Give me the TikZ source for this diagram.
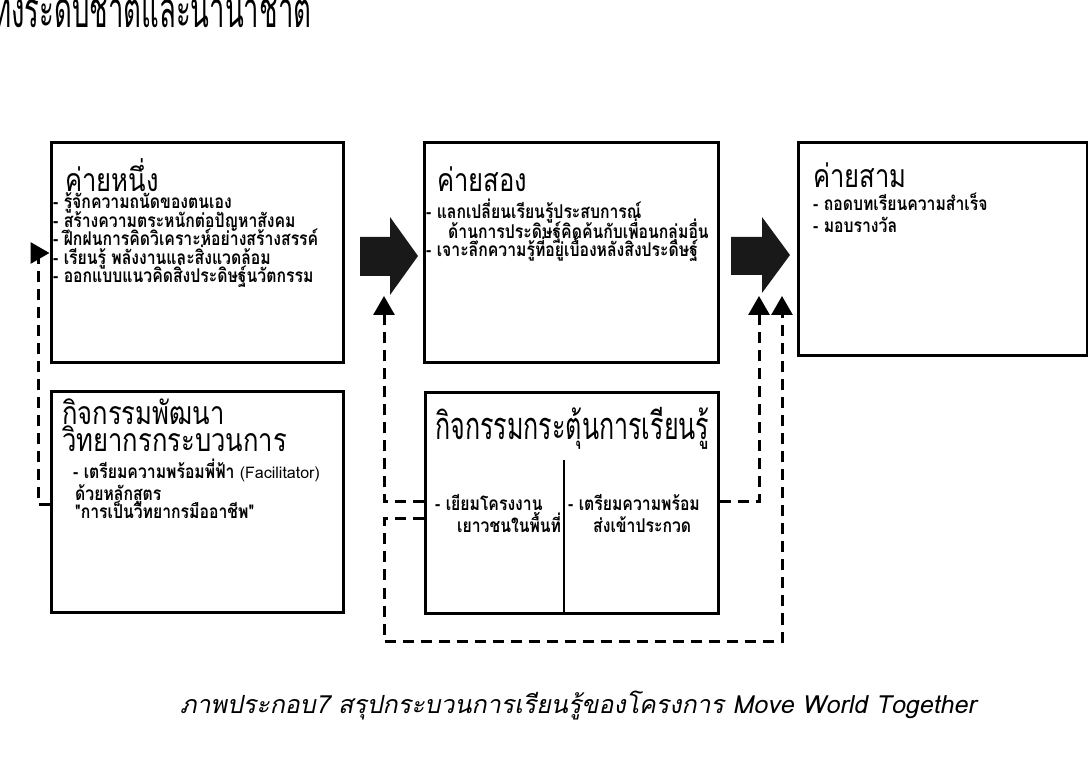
\documentclass[tikz,border=0pt]{standalone}
\usepackage{fontspec}
\usetikzlibrary{arrows.meta}
\newfontfamily\thai[Script=Thai]{Loma}
\newfontfamily\headfont[Script=Thai,FakeStretch=0.55]{Loma}
\newfontfamily\titlefont[Script=Thai,FakeStretch=0.8]{Loma}
\newfontfamily\bigtitlefont[Script=Thai,FakeStretch=0.66]{Loma}
\newfontfamily\capfont[Script=Thai,FakeSlant=0.2]{Loma}
\newfontfamily\bulletfont[Script=Thai,FakeStretch=0.83]{Loma Bold}
\begin{document}
\begin{tikzpicture}[x=1pt,y=-1pt,
  box/.style={draw,line width=3pt,minimum width=#1,inner sep=0pt},
  title/.style={anchor=base west,inner sep=0pt,font=\titlefont\fontsize{32}{36}\selectfont},
  bigtitle/.style={anchor=base west,inner sep=0pt,font=\bigtitlefont\fontsize{38}{44}\selectfont},
  item/.style={anchor=base west,inner sep=0pt,font=\bulletfont\fontsize{19}{22}\selectfont},
  link/.style={line width=3pt,dash pattern=on 11pt off 7pt,-{Triangle[width=21pt,length=19pt]}},
  blockarrow/.style={fill=black!90}]
\useasboundingbox (0,0) rectangle (1088,783);

% heading line continued from the previous page
\node[anchor=base west,inner sep=0pt,font=\headfont\fontsize{50}{56}\selectfont] (head) at (-7,28) {ทั้งระดับชาติและนานาชาติ};

% camps
\node[box=292pt,minimum height=220pt] (b1) at (197,253) {};
\node[box=294pt,minimum height=220pt] (b2) at (571,253) {};
\node[box=289pt,minimum height=213pt] (b3) at (942.5,249.5) {};
\node[box=292pt,minimum height=220pt] (b4) at (197,502) {};
\node[box=293pt,minimum height=220pt] (b5) at (571.5,503) {};
\draw[line width=1.6pt] (564,460) -- (564,613);

% camp one
\node[title] (t1) at (65,192) {ค่ายหนึ่ง};
\node[item] (t1a) at (53,209) {- รู้จักความถนัดของตนเอง};
\node[item] (t1b) at (53,228) {- สร้างความตระหนักต่อปัญหาสังคม};
\node[item] (t1c) at (53,246) {- ฝึกฝนการคิดวิเคราะห์อย่างสร้างสรรค์};
\node[item] (t1d) at (53,265) {- เรียนรู้ พลังงานและสิ่งแวดล้อม};
\node[item] (t1e) at (53,283) {- ออกแบบแนวคิดสิ่งประดิษฐ์นวัตกรรม};

% camp two
\node[title] (t2) at (437,192) {ค่ายสอง};
\node[item] (t2a) at (426,219) {- แลกเปลี่ยนเรียนรู้ประสบการณ์};
\node[item] (t2b) at (448,239) {ด้านการประดิษฐ์คิดค้นกับเพื่อนกลุ่มอื่น};
\node[item] (t2c) at (426,257) {- เจาะลึกความรู้ที่อยู่เบื้องหลังสิ่งประดิษฐ์};

% camp three
\node[title] (t3) at (813,188) {ค่ายสาม};
\node[item] (t3a) at (813,211) {- ถอดบทเรียนความสำเร็จ};
\node[item] (t3b) at (813,233) {- มอบรางวัล};

% facilitator development
\node[title] (t4) at (62,425) {กิจกรรมพัฒนา};
\node[title] (t4b) at (62,452) {วิทยากรกระบวนการ};
\node[item] (t4c) at (73,479) {- เตรียมความพร้อมพี่ฟ้า {\thai\fontsize{16}{18}\selectfont (Facilitator)}};
\node[item] (t4d) at (75,501) {ด้วยหลักสูตร};
\node[item] (t4e) at (75,519) {"การเป็นวิทยากรมืออาชีพ"};

% learning stimulation
\node[bigtitle] (t5) at (435,440) {กิจกรรมกระตุ้นการเรียนรู้};
\node[item] (t5a) at (435,511) {- เยียมโครงงาน};
\node[item] (t5b) at (457,533) {เยาวชนในพื้นที่};
\node[item] (t5c) at (568,511) {- เตรียมความพร้อม};
\node[item] (t5d) at (593,533) {ส่งเข้าประกวด};

% block arrows between camps
\fill[blockarrow] (360,237) -- (390,237) -- (390,217) -- (418,256) -- (390,295) -- (390,276) -- (360,276) -- cycle;
\fill[blockarrow] (731,237) -- (762,237) -- (762,217) -- (790,255) -- (762,293) -- (762,275) -- (731,275) -- cycle;

% feedback links
\coordinate (c1) at (38,505);
\coordinate (c2) at (384,502);
\coordinate (c2e) at (384,296);
\coordinate (c3) at (384,519);
\coordinate (c3b) at (782,641);
\coordinate (c3e) at (780,296);
\coordinate (c4) at (759,502);
\coordinate (c4e) at (759,296);

\draw[link] (b4.west |- c1) -- (c1) |- (b1.west);
\draw[link] (b5.west |- c2) -- (c2) -- (c2e);
\draw[link] (b5.west |- c3) -- (c3) |- (c3b) -- (c3e -| c3b);
\draw[link] (b5.east |- c4) -- (c4) -- (c4e);

% caption
\node[anchor=base,inner sep=0pt,font=\capfont\fontsize{25}{30}\selectfont] (cap) at (578,713) {ภาพประกอบ7 สรุปกระบวนการเรียนรู้ของโครงการ Move World Together};
\end{tikzpicture}
\end{document}
